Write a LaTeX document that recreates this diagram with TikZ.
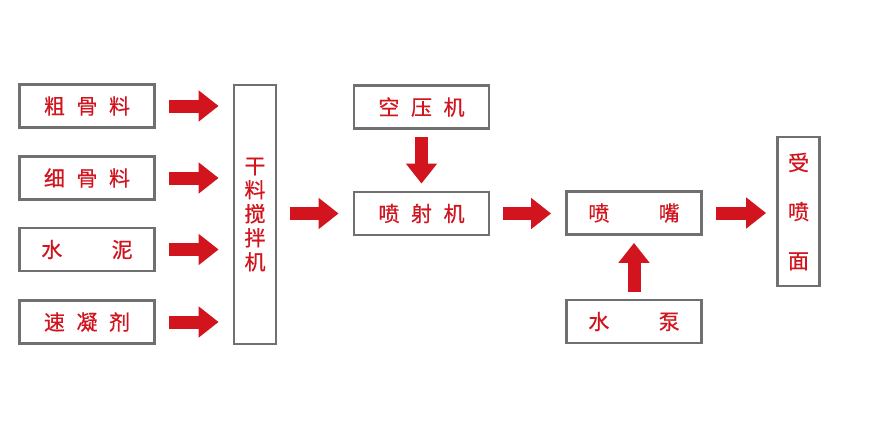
\documentclass[tikz,border=0pt]{standalone}
\usepackage{fontspec}
\usepackage{tikz}
\usetikzlibrary{arrows.meta,positioning,calc}
\newfontfamily\cjk[FakeBold=0.6]{Noto Sans CJK SC}
\definecolor{flowred}{RGB}{210,20,30}
\definecolor{boxgray}{RGB}{112,112,112}
\tikzset{
  pbox/.style={draw=boxgray, line width=2.8pt, fill=white, inner sep=0pt,
               minimum width=135pt, minimum height=43pt,
               font=\cjk\fontsize{21}{24}\selectfont, text=flowred},
  vbox/.style={pbox, minimum width=42pt, align=center},
  flowarr/.style={-{Triangle[length=20pt, width=30pt]}, flowred, line width=13pt},
  hflow/.style={flowarr, shorten <=13pt, shorten >=14pt},
  vflow/.style={flowarr, shorten <=7pt, shorten >=7pt},
}
\newcommand{\gap}{\hspace{0.55em}}
\newcommand{\wgap}{\hspace{2.35em}}
\begin{document}
\begin{tikzpicture}[x=1pt, y=-1pt]
    \useasboundingbox (0,0) rectangle (875,428);
    % raw materials
    \node[pbox] (coarse) at (87,106)   {粗\gap 骨\gap 料};
    \node[pbox] (fine)   at (87,178)   {细\gap 骨\gap 料};
    \node[pbox] (cement) at (87,249.5) {水\wgap 泥};
    \node[pbox] (accel)  at (87,322)   {速\gap 凝\gap 剂};
    % mixer and sprayer
    \node[vbox, minimum height=259pt] (mixer) at (255,214.5) {干\\料\\搅\\拌\\机};
    \node[pbox] (air)    at (421.5,107)   {空\gap 压\gap 机};
    \node[pbox] (spray)  at (421.5,213.5) {喷\gap 射\gap 机};
    \node[pbox] (nozzle) at (634,213)     {喷\wgap 嘴};
    \node[pbox] (pump)   at (634,321.5)   {水\wgap 泵};
    \node[vbox, minimum height=149pt, font=\cjk\fontsize{21}{49}\selectfont]
      (surface) at (798.5,211.5) {受\\喷\\面};
    % flow arrows
    \foreach \src in {coarse,fine,cement,accel}
      \draw[hflow] (\src.east) -- (mixer.west |- \src.east);
    \draw[hflow] (mixer.east |- spray.west) -- (spray.west);
    \draw[hflow] (spray.east) -- (nozzle.west |- spray.east);
    \draw[hflow, shorten >=10pt] (nozzle.east) -- (surface.west |- nozzle.east);
    \draw[vflow] (air.south) -- (spray.north);
    \draw[vflow] (pump.north) -- (nozzle.south);
  \end{tikzpicture}
\end{document}
